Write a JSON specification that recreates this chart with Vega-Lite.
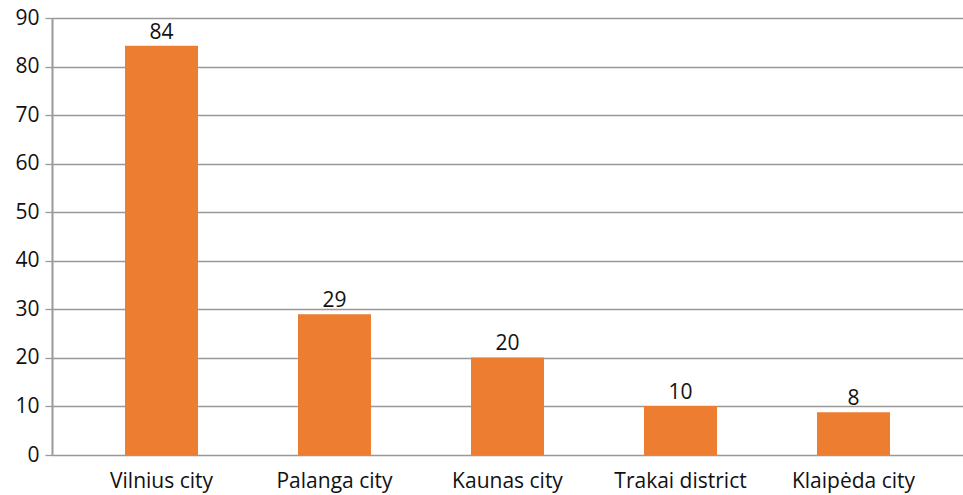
{
  "$schema": "https://vega.github.io/schema/vega-lite/v6.json",
  "width": 911,
  "height": 437,
  "autosize": "none",
  "padding": {"left": 52, "top": 18, "right": 0, "bottom": 40},
  "background": "white",
  "config": {
    "view": {"stroke": null},
    "font": "Open Sans"
  },
  "data": {
    "values": [
      {"place": "Vilnius city", "value": 84.3, "label": "84"},
      {"place": "Palanga city", "value": 29, "label": "29"},
      {"place": "Kaunas city", "value": 20.1, "label": "20"},
      {"place": "Trakai district", "value": 10.1, "label": "10"},
      {"place": "Klaipėda city", "value": 8.8, "label": "8"}
    ]
  },
  "encoding": {
    "x": {
      "field": "place",
      "type": "nominal",
      "sort": null,
      "scale": {"paddingInner": 0.578, "paddingOuter": 0.422},
      "axis": {
        "title": null,
        "labelAngle": 0,
        "ticks": false,
        "domain": false,
        "labelFontSize": 21,
        "labelColor": "#111",
        "labelPadding": 15,
        "labelFont": "Open Sans"
      }
    },
    "y": {
      "field": "value",
      "type": "quantitative",
      "scale": {"domain": [0, 90]},
      "axis": {
        "title": null,
        "values": [0, 10, 20, 30, 40, 50, 60, 70, 80, 90],
        "grid": true,
        "gridColor": "#999",
        "gridWidth": 1.3,
        "domainColor": "#999",
        "domainWidth": 2,
        "tickColor": "#999",
        "tickSize": 7,
        "tickWidth": 1.3,
        "labelFontSize": 21,
        "labelColor": "#111",
        "labelPadding": 6,
        "labelFont": "Open Sans"
      }
    }
  },
  "layer": [
    {"mark": {"type": "bar", "color": "#ED7D31"}},
    {
      "mark": {"type": "text", "baseline": "bottom", "dy": -3, "fontSize": 21, "color": "#111", "font": "Open Sans"},
      "encoding": {"text": {"field": "label", "type": "nominal"}}
    }
  ]
}
